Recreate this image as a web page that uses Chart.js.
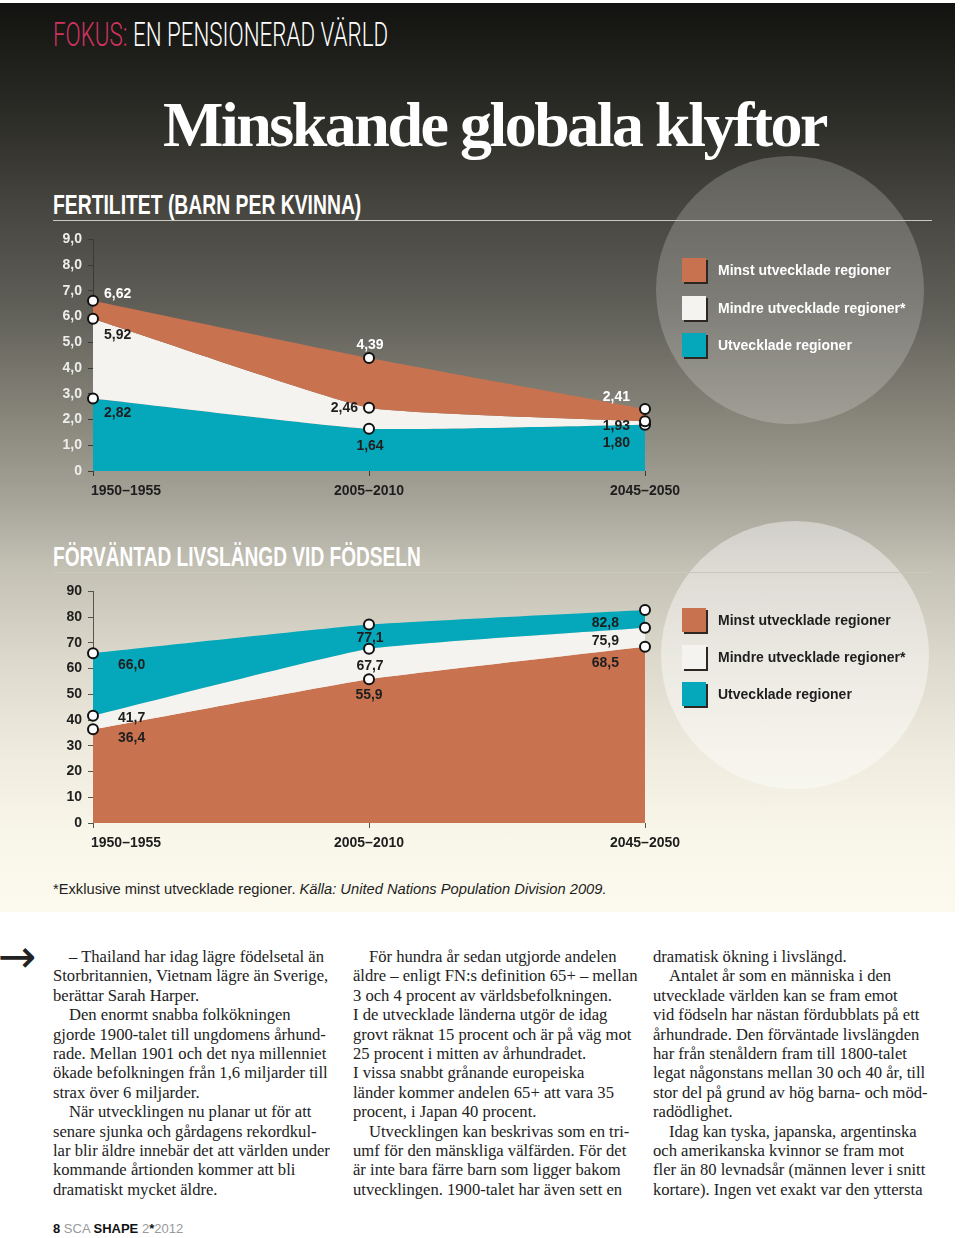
<!DOCTYPE html>
<html lang="sv">
<head>
<meta charset="utf-8">
<title>Minskande globala klyftor</title>
<script src="https://cdn.jsdelivr.net/npm/chart.js@4.4.1/dist/chart.umd.min.js"></script>
<style>
  body { margin:0; width:960px; height:1238px; position:relative; background:#fff; overflow:hidden;
         font-family:"Liberation Sans", Arial, sans-serif; }
  .panel { position:absolute; left:0; top:3px; width:955px; height:909px;
           background:linear-gradient(to bottom, #121210 0%, #262622 10%, #45443e 22%, #5e5d56 33%,
             #868479 45%, #a7a49a 55%, #c3c0b4 62%, #dcd9cc 72%, #eeebde 82%, #f9f7ea 92%, #fcfaee 100%); }
  .circle { position:absolute; border-radius:50%; }
  .c1 { left:656px; top:156px; width:268px; height:268px; background:rgba(255,255,255,0.2); }
  .c2 { left:661px; top:521px; width:268px; height:268px; background:rgba(255,255,255,0.42); }
  .fit { transform-origin:0 0; }
  .kicker { position:absolute; left:53px; top:18px; font-family:Roboto, "Liberation Sans", sans-serif; font-weight:300;
            font-size:33.5px; line-height:33px; color:#fff; white-space:nowrap; }
  .kicker span { color:#d0345f; }
  .title { position:absolute; left:163px; top:93px; font-family:"Liberation Serif","DejaVu Serif",serif; font-weight:bold;
           font-size:64px; line-height:64px; letter-spacing:-2.5px; color:#fff; white-space:nowrap; }
  .head { position:absolute; left:53px; font-family:"Liberation Sans", Arial, sans-serif; font-weight:bold;
          font-size:28px; line-height:27px; color:#fff; white-space:nowrap; }
  .rule { position:absolute; left:53px; width:879px; height:1px; background:#c9c7c0; }
  canvas { position:absolute; }
  .legend { position:absolute; left:682px; }
  .legend div { position:absolute; left:0; height:26px; display:flex; align-items:center; white-space:nowrap;
                font-weight:bold; font-size:14px; }
  .legend i { display:inline-block; width:24px; height:24px; margin-right:12px; box-shadow:2px 2px 0 #2e2620; }
  .note { position:absolute; left:53px; top:881px; font-size:14.7px; color:#1e1e1e; white-space:nowrap; }
  .arrow { position:absolute; left:-2px; top:931px; font-family:"DejaVu Sans", sans-serif; font-size:46px; line-height:50px;
           color:#222; font-weight:normal; }
  .col { position:absolute; top:947px; font-family:"Liberation Serif","DejaVu Serif",serif; font-size:16.6px;
         line-height:19.4px; color:#222; }
  .col span { display:block; white-space:nowrap; }
  .col .in { text-indent:16px; }
  .foot { position:absolute; left:53px; top:1221px; font-size:13px; color:#999; white-space:nowrap; }
  .foot b { color:#111; }
</style>
</head>
<body>
<div class="panel"></div>
<div class="circle c1"></div>
<div class="circle c2"></div>

<div class="kicker fit" data-w="335"><span>FOKUS:</span> EN PENSIONERAD VÄRLD</div>
<div class="title">Minskande globala klyftor</div>

<div class="head fit" data-w="308" style="top:191px">FERTILITET (BARN PER KVINNA)</div>
<div class="rule" style="top:220px"></div>
<canvas id="fertChart" width="660" height="276" style="left:40px;top:225px"></canvas>
<div class="legend" id="legend1" style="top:0"></div>

<div class="head fit" data-w="368" style="top:543px">FÖRVÄNTAD LIVSLÄNGD VID FÖDSELN</div>
<div class="rule" style="top:572px"></div>
<canvas id="lifeChart" width="660" height="276" style="left:40px;top:577px"></canvas>
<div class="legend" id="legend2" style="top:0"></div>

<div class="note">*Exklusive minst utvecklade regioner. <i>Källa: United Nations Population Division 2009.</i></div>

<div class="arrow">→</div>
<div class="col" style="left:53px">
  <span class="in">– Thailand har idag lägre födelsetal än</span>
  <span>Storbritannien, Vietnam lägre än Sverige,</span>
  <span>berättar Sarah Harper.</span>
  <span class="in">Den enormt snabba folkökningen</span>
  <span>gjorde 1900-talet till ungdomens århund-</span>
  <span>rade. Mellan 1901 och det nya millenniet</span>
  <span>ökade befolkningen från 1,6 miljarder till</span>
  <span>strax över 6 miljarder.</span>
  <span class="in">När utvecklingen nu planar ut för att</span>
  <span>senare sjunka och gårdagens rekordkul-</span>
  <span>lar blir äldre innebär det att världen under</span>
  <span>kommande årtionden kommer att bli</span>
  <span>dramatiskt mycket äldre.</span>
</div>
<div class="col" style="left:353px">
  <span class="in">För hundra år sedan utgjorde andelen</span>
  <span>äldre – enligt FN:s definition 65+ – mellan</span>
  <span>3 och 4 procent av världsbefolkningen.</span>
  <span>I de utvecklade länderna utgör de idag</span>
  <span>grovt räknat 15 procent och är på väg mot</span>
  <span>25 procent i mitten av århundradet.</span>
  <span>I vissa snabbt grånande europeiska</span>
  <span>länder kommer andelen 65+ att vara 35</span>
  <span>procent, i Japan 40 procent.</span>
  <span class="in">Utvecklingen kan beskrivas som en tri-</span>
  <span>umf för den mänskliga välfärden. För det</span>
  <span>är inte bara färre barn som ligger bakom</span>
  <span>utvecklingen. 1900-talet har även sett en</span>
</div>
<div class="col" style="left:653px">
  <span>dramatisk ökning i livslängd.</span>
  <span class="in">Antalet år som en människa i den</span>
  <span>utvecklade världen kan se fram emot</span>
  <span>vid födseln har nästan fördubblats på ett</span>
  <span>århundrade. Den förväntade livslängden</span>
  <span>har från stenåldern fram till 1800-talet</span>
  <span>legat någonstans mellan 30 och 40 år, till</span>
  <span>stor del på grund av hög barna- och möd-</span>
  <span>radödlighet.</span>
  <span class="in">Idag kan tyska, japanska, argentinska</span>
  <span>och amerikanska kvinnor se fram mot</span>
  <span>fler än 80 levnadsår (männen lever i snitt</span>
  <span>kortare). Ingen vet exakt var den yttersta</span>
</div>

<div class="foot"><b>8</b> SCA <b>SHAPE</b> 2<b>*</b>2012</div>

<script>
const periods = ["1950–1955", "2005–2010", "2045–2050"];
const regionNames = ["Minst utvecklade regioner", "Mindre utvecklade regioner*", "Utvecklade regioner"];

const fertMinst  = [6.62, 4.39, 2.41];
const fertMindre = [5.92, 2.46, 1.93];
const fertUtv    = [2.82, 1.64, 1.80];
const fertMax = 9, fertStep = 1;

const lifeMinst  = [36.4, 55.9, 68.5];
const lifeMindre = [41.7, 67.7, 75.9];
const lifeUtv    = [66.0, 77.1, 82.8];
const lifeMax = 90, lifeStep = 10;

const ORANGE = "#c9724f";
const WHITE = "#f5f3ef";
const TEAL = "#05a7ba";
const regionColors = [ORANGE, WHITE, TEAL];
const FONT = '"Liberation Sans", Arial, sans-serif';

// squeeze the condensed headlines to their width (no condensed face installed)
document.querySelectorAll(".fit").forEach(el => {
	let w = parseFloat(el.dataset.w);
	el.style.transform = "scaleX(" + (w / el.offsetWidth) + ")";
});

// legends
function buildLegend(id, rowsTop, textColor) {
	let box = document.getElementById(id);
	regionNames.forEach((name, i) => {
		let row = document.createElement("div");
		box.appendChild(row);
		row.style.top = rowsTop[i] + "px";
		row.style.color = textColor;
		let sw = document.createElement("i");
		row.appendChild(sw);
		sw.style.background = regionColors[i];
		row.appendChild(document.createTextNode(name));
	});
}
buildLegend("legend1", [257, 295, 332], "#fff");
buildLegend("legend2", [607, 644, 681], "#1e1e1e");

// period labels under the area, first one starts at the axis
const periodLabels = {
	id: "periodLabels",
	afterDraw(chart, args, opts) {
		let ctx = chart.ctx;
		let xs = chart.scales.x;
		ctx.save();
		ctx.font = "bold 14px " + FONT;
		ctx.fillStyle = opts.color;
		ctx.textBaseline = "middle";
		chart.data.labels.forEach((lab, i) => {
			let x = xs.getPixelForTick(i);
			ctx.textAlign = i === 0 ? "left" : "center";
			ctx.fillText(lab, i === 0 ? x - 2 : x, chart.chartArea.bottom + 20);
		});
		ctx.restore();
	}
};

// value labels next to each point
const valueLabels = {
	id: "valueLabels",
	afterDatasetsDraw(chart, args, opts) {
		let ctx = chart.ctx;
		ctx.save();
		ctx.font = "bold 14px " + FONT;
		ctx.textBaseline = "middle";
		chart.data.datasets.forEach((ds, di) => {
			chart.getDatasetMeta(di).data.forEach((pt, i) => {
				let p = opts.place[di][i];
				ctx.fillStyle = opts.colors[di];
				ctx.textAlign = p[2];
				ctx.fillText(opts.format(ds.data[i]), pt.x + p[0], pt.y + p[1]);
			});
		});
		ctx.restore();
	}
};

function areaSet(label, data, color, fill) {
	return {
		label: label,
		data: data,
		backgroundColor: color,
		borderWidth: 0,
		fill: fill,
		tension: 0.12,
		pointRadius: 5,
		pointBackgroundColor: "#fff",
		pointBorderColor: "#111",
		pointBorderWidth: 2,
		clip: false
	};
}

function makeChart(canvasId, datasets, yMax, yStep, tickFmt, tickColor, axisColor, labelOpts) {
	return new Chart(document.getElementById(canvasId).getContext("2d"), {
		type: "line",
		data: { labels: periods, datasets: datasets },
		plugins: [periodLabels, valueLabels],
		options: {
			responsive: false,
			animation: false,
			layout: { padding: { top: 12, right: 55, left: 0, bottom: 0 } },
			scales: {
				x: {
					offset: false,
					ticks: { display: false },
					grid: { drawOnChartArea: false, tickLength: 5, color: axisColor },
					border: { display: false },
					afterFit: s => { s.height = 30; }
				},
				y: {
					min: 0, max: yMax,
					ticks: { stepSize: yStep, padding: 6, color: tickColor, font: { family: FONT, size: 14, weight: "bold" },
						callback: tickFmt },
					grid: { drawOnChartArea: false, tickLength: 5, color: axisColor },
					border: { display: true, color: axisColor, width: 1 },
					afterFit: s => { s.width = 53; }
				}
			},
			plugins: {
				legend: { display: false },
				tooltip: { enabled: false },
				filler: { drawTime: "beforeDatasetsDraw" },
				periodLabels: { color: "#1e1e1e" },
				valueLabels: labelOpts
			}
		}
	});
}

// fertility: least developed on top
makeChart("fertChart", [
		areaSet(regionNames[0], fertMinst, ORANGE, "+1"),
		areaSet(regionNames[1], fertMindre, WHITE, "+1"),
		areaSet(regionNames[2], fertUtv, TEAL, "origin")
	], fertMax, fertStep,
	v => v === 0 ? "0" : v.toFixed(1).replace(".", ","),
	"#ededea", "#3a3a36",
	{
		format: v => v.toFixed(2).replace(".", ","),
		colors: ["#fff", "#1e1e1e", "#1e1e1e"],
		place: [
			[[11, -7, "left"], [1, -13, "center"], [-15, -12, "right"]],
			[[11, 16, "left"], [-11, 0, "right"], [-15, 5, "right"]],
			[[11, 15, "left"], [1, 17, "center"], [-15, 18, "right"]]
		]
	});

// life expectancy: developed on top
makeChart("lifeChart", [
		areaSet(regionNames[2], lifeUtv, TEAL, "+1"),
		areaSet(regionNames[1], lifeMindre, WHITE, "+1"),
		areaSet(regionNames[0], lifeMinst, ORANGE, "origin")
	], lifeMax, lifeStep,
	v => String(v),
	"#1e1e1e", "#55544f",
	{
		format: v => v.toFixed(1).replace(".", ","),
		colors: ["#1e1e1e", "#1e1e1e", "#1e1e1e"],
		place: [
			[[25, 12, "left"], [1, 14, "center"], [-26, 13, "right"]],
			[[25, 2, "left"], [1, 17, "center"], [-26, 13, "right"]],
			[[25, 9, "left"], [0, 16, "center"], [-26, 16, "right"]]
		]
	});
</script>
</body>
</html>
